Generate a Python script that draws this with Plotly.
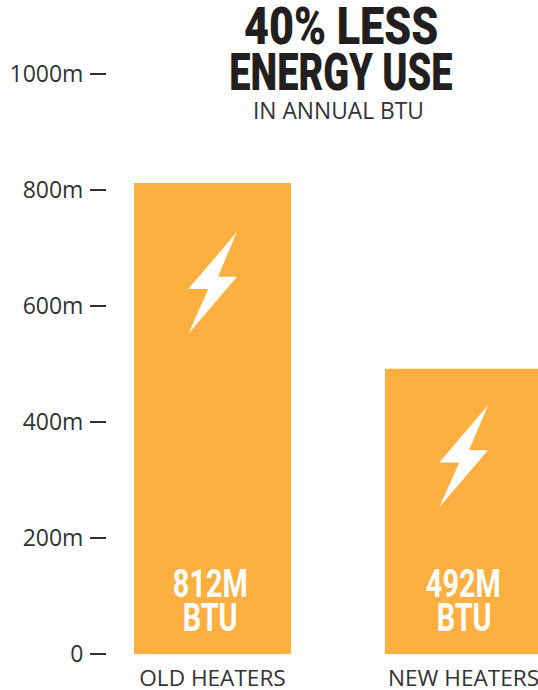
import plotly.graph_objects as go

categories = ["OLD HEATERS", "NEW HEATERS"]
values = [812, 492]
bar_line1 = ["812M", "492M"]
bar_line2 = ["BTU", "BTU"]
y_ticks = [0, 200, 400, 600, 800, 1000]
y_tick_labels = ["0", "200m", "400m", "600m", "800m", "1000m"]
bolt_levels = [640, 341]
title_lines = ["40% LESS", "ENERGY USE"]
subtitle = "IN ANNUAL BTU"

BAR = "#FDB03F"
INK = "#333333"
DARK = "#231F20"
HEAVY = "Roboto, sans-serif"
SANS = "'Open Sans', sans-serif"

BOLT = "M 24.5 51 L 5.5 6 L 24.5 6 L -24.2 -51 L -4.2 -6.3 L -24.2 -6.3 Z"
PW, PH, L = 431, 654, 107


def px(x):
    return (x - L) / PW


def py(y):
    return 1 - y / PH


fig = go.Figure(go.Bar(
    x=categories, y=values, width=157 / 251, marker=dict(color=BAR, line_width=0),
    hoverinfo="skip",
))

shapes = []
annotations = []
for cat, level, l1, l2, dx in zip(categories, bolt_levels, bar_line1, bar_line2, [-2.5, 0]):
    shapes.append(dict(type="path", xref="x", yref="y", xsizemode="pixel", ysizemode="pixel",
                       xanchor=cat, yanchor=level, path=BOLT,
                       fillcolor="white", line_width=0, layer="above"))
    for line, yc in ((l1, 584), (l2, 618)):
        annotations.append(dict(x=cat, y=py(yc), xref="x", yref="paper", text=line, showarrow=False,
                                xshift=dx, yanchor="middle", xanchor="center",
                                font=dict(family=HEAVY, size=38, color="white", weight=700)))

for line, yc in zip(title_lines, (26.5, 72)):
    annotations.append(dict(x=px(340.5), y=py(yc), xref="paper", yref="paper", text=line,
                            showarrow=False, xanchor="center", yanchor="middle",
                            font=dict(family=HEAVY, size=52, color=DARK, weight=900)))
annotations.append(dict(x=px(338), y=py(111), xref="paper", yref="paper", text=subtitle,
                        showarrow=False, xanchor="center", yanchor="middle",
                        font=dict(family=SANS, size=22.8, color=INK)))

fig.update_layout(
    width=538, height=690, margin=dict(l=L, r=0, t=0, b=36, pad=0, autoexpand=False),
    paper_bgcolor="white", plot_bgcolor="white", showlegend=False,
    shapes=shapes, annotations=annotations,
    font=dict(family=SANS, color=INK),
    xaxis=dict(type="category", range=[-105.5 / 251, 325.5 / 251], showgrid=False, zeroline=False,
               showline=False, ticks="", tickfont=dict(size=22.6, family=SANS, color=INK),
               ticklabelstandoff=8),
    yaxis=dict(range=[0, 654 / 0.58], tickvals=y_ticks, ticktext=y_tick_labels, showgrid=False,
               zeroline=False, showline=False, ticks="outside", ticklen=16, tickwidth=1.5,
               tickcolor=INK, tickfont=dict(size=23, family=SANS, color=INK),
               ticklabelstandoff=2),
)

POST = """
document.documentElement.style.overflow = 'hidden';
document.body.style.margin = '0';
document.body.style.overflow = 'hidden';
document.querySelectorAll('text.annotation-text').forEach(function (t) {
  var w = parseInt(t.style.fontWeight);
  if (!(w >= 700)) { return; }
  var s = w >= 900 ? (t.textContent.indexOf('%') >= 0 ? 0.83 : 0.73) : 0.76;
  var b = t.getBBox();
  var c = b.x + b.width / 2;
  t.setAttribute('transform', 'translate(' + c + ',0) scale(' + s + ',1) translate(' + (-c) + ',0)');
});
"""
fig.write_html("out.html", config=dict(displayModeBar=False), post_script=POST)
